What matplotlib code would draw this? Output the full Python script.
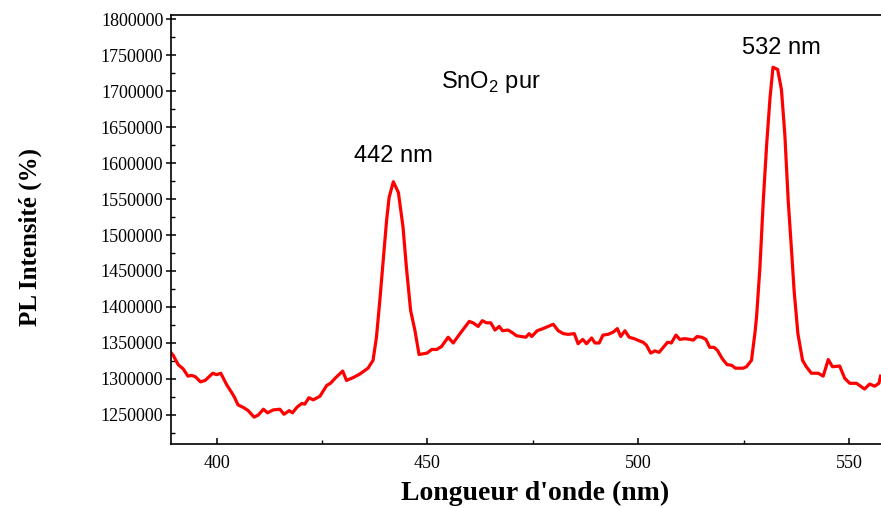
import matplotlib
matplotlib.use('Agg')
import matplotlib.pyplot as plt
from matplotlib.ticker import MultipleLocator, FuncFormatter

# PL spectrum of pure SnO2
wavelength = [389.0, 389.7, 390.9, 392.1, 393.2, 394.1, 395.0, 396.2, 397.3, 399.1,
              400.0, 401.0, 402.4, 403.6, 404.2, 405.1, 406.5, 407.5, 408.9, 409.9,
              411.1, 412.1, 413.4, 415.0, 416.0, 417.2, 418.0, 419.1, 420.2, 420.9,
              421.9, 422.9, 424.5, 426.1, 427.0, 428.1, 429.9, 430.8, 432.4, 434.0,
              435.9, 437.1, 437.9, 438.7, 439.5, 440.3, 440.9, 441.9, 443.1, 444.2,
              445.0, 446.0, 447.0, 448.0, 449.9, 451.0, 452.2, 453.3, 454.9, 456.1,
              457.7, 459.9, 460.8, 462.0, 463.0, 464.0, 465.0, 466.0, 467.0, 467.8,
              469.1, 470.2, 471.1, 472.3, 473.3, 474.1, 474.7, 476.0, 477.4, 478.6,
              479.8, 481.0, 482.2, 483.3, 484.8, 485.7, 486.8, 487.7, 488.9, 489.7,
              490.7, 491.6, 492.8, 494.0, 495.0, 495.8, 496.8, 497.8, 499.0, 500.2,
              501.1, 501.9, 502.9, 503.9, 504.9, 505.9, 506.9, 507.8, 508.9, 509.8,
              511.0, 512.2, 513.0, 513.9, 515.0, 516.0, 516.9, 517.9, 518.7, 519.9,
              521.0, 522.1, 523.0, 524.8, 525.6, 526.8, 527.6, 528.0, 528.8, 529.6,
              530.4, 531.2, 531.9, 533.0, 533.9, 534.7, 535.5, 536.3, 536.9, 537.8,
              538.9, 539.8, 541.0, 542.6, 543.8, 545.0, 546.0, 547.7, 548.9, 550.1,
              551.7, 553.6, 554.8, 556.0, 557.0, 557.4]
intensity = [1338000, 1333000, 1320000, 1314000, 1304000, 1305000, 1303000, 1296000, 1298000, 1308000,
             1306000, 1308000, 1292000, 1281000, 1275000, 1264000, 1260000, 1256000, 1247000, 1250000,
             1258000, 1253000, 1257000, 1258000, 1251000, 1256000, 1253000, 1261000, 1266000, 1265000,
             1274000, 1271000, 1276000, 1291000, 1294000, 1301000, 1311000, 1298000, 1302000, 1307000,
             1315000, 1326000, 1358000, 1409000, 1464000, 1520000, 1552000, 1574000, 1559000, 1511000,
             1455000, 1395000, 1368000, 1334000, 1336000, 1341000, 1341000, 1345000, 1358000, 1350000,
             1363000, 1380000, 1378000, 1373000, 1381000, 1378000, 1378000, 1368000, 1373000, 1367000,
             1368000, 1364000, 1360000, 1359000, 1358000, 1363000, 1359000, 1367000, 1370000, 1373000,
             1376000, 1367000, 1363000, 1362000, 1363000, 1349000, 1355000, 1349000, 1357000, 1350000,
             1350000, 1361000, 1362000, 1365000, 1370000, 1359000, 1367000, 1358000, 1356000, 1353000,
             1351000, 1347000, 1336000, 1339000, 1337000, 1344000, 1351000, 1350000, 1361000, 1355000,
             1356000, 1355000, 1354000, 1359000, 1358000, 1355000, 1344000, 1344000, 1340000, 1328000,
             1320000, 1319000, 1315000, 1315000, 1317000, 1326000, 1363000, 1386000, 1455000, 1548000,
             1626000, 1691000, 1733000, 1730000, 1702000, 1640000, 1548000, 1478000, 1423000, 1363000,
             1326000, 1317000, 1308000, 1308000, 1304000, 1327000, 1317000, 1318000, 1301000, 1294000,
             1294000, 1286000, 1293000, 1290000, 1294000, 1304000]

peak_labels = ['442 nm', '532 nm']
peak_pos = [(441.9, 1610000), (534.0, 1760000)]
sample_label = 'SnO$_\\mathrm{2}$ pur'

plt.rcParams['mathtext.fontset'] = 'custom'
plt.rcParams['mathtext.rm'] = 'Liberation Sans'

fig = plt.figure(figsize=(8.81, 5.08), dpi=100)
ax = fig.add_axes([171 / 881, 1 - 444 / 508, 710 / 881, (444 - 14.7) / 508])

ax.plot(wavelength, intensity, color='#ff0000', lw=2.3)

ax.set_xlim(389.2, 557.5)
ax.set_ylim(1209700, 1806000)

ax.spines['right'].set_visible(False)
for s in ['left', 'bottom', 'top']:
  ax.spines[s].set_linewidth(1.2)

ax.xaxis.set_major_locator(MultipleLocator(50))
ax.xaxis.set_minor_locator(MultipleLocator(25))
ax.yaxis.set_major_locator(MultipleLocator(50000))
ax.yaxis.set_minor_locator(MultipleLocator(25000))
ax.yaxis.set_major_formatter(FuncFormatter(lambda v, p: '%d' % v))

ax.tick_params(axis='x', which='major', direction='in', length=4, width=1.1, pad=8)
ax.tick_params(axis='x', which='minor', direction='in', length=3, width=1.0)
ax.tick_params(axis='y', which='major', direction='inout', length=7, width=1.1, pad=2)
ax.tick_params(axis='y', which='minor', direction='in', length=3, width=1.0)
for lbl in ax.get_xticklabels() + ax.get_yticklabels():
  lbl.set_fontfamily('Liberation Serif')
  lbl.set_fontsize(13)

ax.set_xlabel("Longueur d'onde (nm)", family='Liberation Serif', weight='bold',
              fontsize=20, va='center')
ax.xaxis.set_label_coords((535 - 171) / 710, (444 - 493) / 429.3)
ax.set_ylabel('PL Intensité (%)', family='Liberation Serif', weight='bold',
              fontsize=18, va='center', ha='center')
ax.yaxis.set_label_coords((30 - 171) / 710, (444 - 237) / 429.3)

for txt, (x, y) in zip(peak_labels, peak_pos):
  ax.text(x, y, txt, family='Liberation Sans', fontsize=17, ha='center', va='center')
ax.text(465.0, 1712000, sample_label, family='Liberation Sans', fontsize=17,
        ha='center', va='center')

fig.savefig('out.png', dpi=100)
